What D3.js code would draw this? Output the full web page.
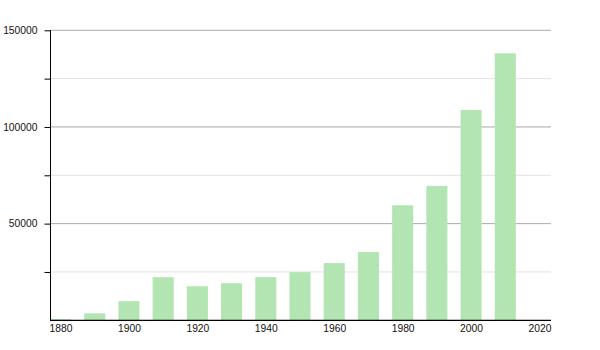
<!DOCTYPE html>
<html><head><meta charset="utf-8">
<script src="https://cdn.jsdelivr.net/npm/d3@7"></script>
<style>body{margin:0;background:#fff}svg text{font-family:"Liberation Sans",Arial,sans-serif;font-size:10.3px;fill:#111}</style>
</head><body><svg id="c" width="600" height="350"></svg>
<script>
const years = [1880,1890,1900,1910,1920,1930,1940,1950,1960,1970,1980,1990,2000,2010];
const population = [600,3600,9900,22300,17600,19200,22300,24900,29600,35300,59500,69500,108800,138100];
const yMajorTicks = [50000,100000,150000];
const yMinorTicks = [25000,75000,125000];
const xTicks = [1880,1900,1920,1940,1960,1980,2000,2020];

const svg = d3.select("#c");
const x = d3.scaleLinear().domain([1876.93, 2023.36]).range([50, 551]);
const y = d3.scaleLinear().domain([0, 150000]).range([320.3, 30.3]);
const barW = x(1886.15) - x(1880);

// gridlines
svg.append("g").selectAll("line.minor").data(yMinorTicks).join("line")
  .attr("x1", 50).attr("x2", 551).attr("y1", d=>y(d)).attr("y2", d=>y(d))
  .attr("stroke", "#e2e2e2").attr("stroke-width", 1);
svg.append("g").selectAll("line.major").data(yMajorTicks).join("line")
  .attr("x1", 50).attr("x2", 551).attr("y1", d=>y(d)).attr("y2", d=>y(d))
  .attr("stroke", "#aaaaaa").attr("stroke-width", 1);

// bars
svg.append("g").selectAll("rect").data(years).join("rect")
  .attr("x", (d)=>x(d)-barW/2).attr("width", barW)
  .attr("y", (d,i)=>y(population[i])).attr("height", (d,i)=>y(0)-y(population[i]))
  .attr("fill", "#b3e5b3");

// y axis
const yAxis = d3.axisLeft(y).tickValues(yMajorTicks.concat(yMinorTicks).sort((a,b)=>a-b))
  .tickSize(6).tickFormat(d => yMajorTicks.includes(d) ? d3.format("d")(d) : "");
const gy = svg.append("g").attr("transform", "translate(50.5,0)").call(yAxis);
gy.select(".domain").attr("d", `M0,${y(150000)}V${y(0)}`).attr("stroke", "#000");
gy.selectAll(".tick line").attr("stroke", "#000");
gy.selectAll(".tick text").attr("x", -13).attr("fill", "#111").style("font-size","10.3px");

// x axis
const xAxis = d3.axisBottom(x).tickValues(xTicks).tickSize(0).tickPadding(4).tickFormat(d3.format("d"));
const gx = svg.append("g").attr("transform", `translate(0,${y(0)})`).call(xAxis);
gx.select(".domain").attr("d", "M50,0H551").attr("stroke", "#000").attr("stroke-width", 1.2);
gx.selectAll(".tick text").attr("fill", "#111").style("font-size","10.3px");
</script></body></html>
